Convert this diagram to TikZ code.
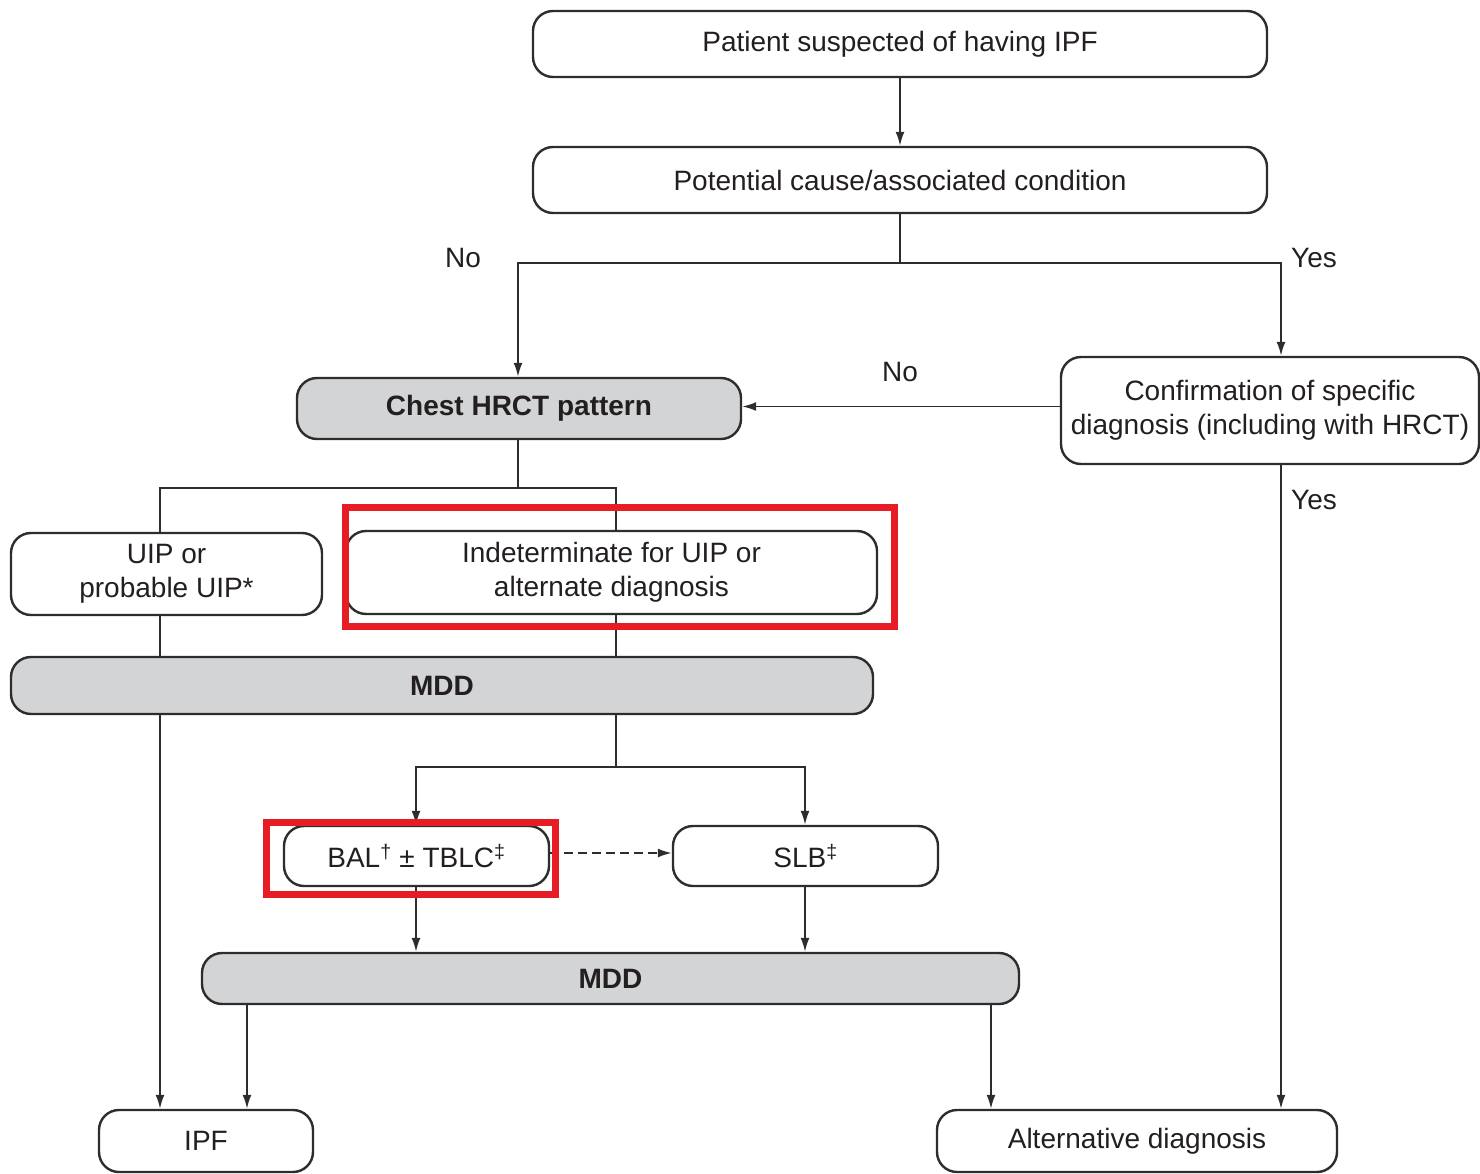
\documentclass[tikz,border=0pt]{standalone}
\usepackage{fontspec}
\setmainfont{Liberation Sans}
\usetikzlibrary{arrows.meta}
\definecolor{ln}{RGB}{45,45,45}
\definecolor{gf}{RGB}{211,212,214}
\definecolor{hl}{RGB}{232,28,36}
\definecolor{tx}{RGB}{35,31,32}
\tikzset{
  box/.style={draw=ln, line width=2.4pt, rounded corners=20pt, fill=white, inner sep=0pt, align=center, text=tx, font=\fontsize{28}{34}\selectfont},
  gbox/.style={box, fill=gf, font=\fontsize{28}{34}\selectfont\bfseries},
  conn/.style={draw=ln, line width=1.8pt},
  arr/.style={conn, -{Latex[length=14pt,width=9pt]}},
  dasharr/.style={arr, dash pattern=on 9pt off 5pt},
  lbl/.style={text=tx, font=\fontsize{28}{34}\selectfont, inner sep=0pt},
  hilite/.style={draw=hl, line width=7.5pt, inner sep=0pt}
}
\begin{document}
\begin{tikzpicture}[x=1pt,y=-1pt]
\useasboundingbox (0,0) rectangle (1480,1174);
% nodes
\node[box, minimum width=734pt, minimum height=66pt] (pat) at (900,44) {Patient suspected of having IPF};
\node[box, minimum width=734pt, minimum height=66pt] (pc) at (900,180) {Potential cause/associated condition};
\node[gbox, minimum width=444pt, minimum height=61pt] (chest) at (519,408.5) {Chest HRCT pattern};
\node[box, minimum width=418pt, minimum height=107pt] (conf) at (1270,410.5) {Confirmation of specific\\diagnosis (including with HRCT)};
\node[box, minimum width=311pt, minimum height=82pt] (uip) at (166.5,574) {UIP or\\probable UIP*};
\node[box, minimum width=531pt, minimum height=83pt] (ind) at (611.5,572.5) {Indeterminate for UIP or\\alternate diagnosis};
\node[gbox, minimum width=862pt, minimum height=57pt] (mdda) at (442,685.5) {MDD};
\node[box, minimum width=265pt, minimum height=60pt] (bal) at (416.5,856) {BAL\textsuperscript{†} ± TBLC\textsuperscript{‡}};
\node[box, minimum width=265pt, minimum height=60pt] (slb) at (805.5,856) {SLB\textsuperscript{‡}};
\node[gbox, minimum width=817pt, minimum height=51pt] (mddb) at (610.5,978.5) {MDD};
\node[box, minimum width=214pt, minimum height=62pt] (ipf) at (206,1141) {IPF};
\node[box, minimum width=400pt, minimum height=62pt] (alt) at (1137,1141) {Alternative diagnosis};
% column coordinates
\coordinate (cA) at (160,0);
\coordinate (cB) at (616,0);
\coordinate (cC) at (416,0);
\coordinate (cD) at (805,0);
\coordinate (cE) at (247,0);
\coordinate (cF) at (991,0);
\coordinate (cG) at (1281,0);
\coordinate (j1) at (900,263);
\coordinate (j2) at (518,488);
\coordinate (j3) at (616,767);
% connectors
\draw[arr] (pat.south) -- (pc.north);
\draw[conn] (pc.south) -- (j1);
\draw[arr] (j1) -| ([xshift=-1pt]chest.north);
\draw[arr] (j1) -| (conf.north -| cG);
\draw[arr] ([yshift=4pt]conf.west) -- ([yshift=4pt]conf.west -| chest.east);
\draw[conn] ([xshift=-1pt]chest.south) -- (j2);
\draw[conn] (j2) -| (uip.north -| cA);
\draw[conn] (j2) -| (ind.north -| cB);
\draw[conn] (uip.south -| cA) -- (mdda.north -| cA);
\draw[conn] (ind.south -| cB) -- (mdda.north -| cB);
\draw[arr] (mdda.south -| cA) -- (ipf.north -| cA);
\draw[conn] (mdda.south -| cB) -- (j3);
\draw[arr] (j3) -| (bal.north -| cC);
\draw[arr] (j3) -| (slb.north -| cD);
\draw[dasharr] ([yshift=3pt]bal.east) -- ([yshift=3pt]bal.east -| slb.west);
\draw[arr] (bal.south -| cC) -- (mddb.north -| cC);
\draw[arr] (slb.south -| cD) -- (mddb.north -| cD);
\draw[arr] (mddb.south -| cE) -- (ipf.north -| cE);
\draw[arr] (mddb.south -| cF) -- (alt.north -| cF);
\draw[arr] (conf.south -| cG) -- (alt.north -| cG);
% labels
\node[lbl] (no1) at (463,258) {No};
\node[lbl] (yes1) at (1314,258) {Yes};
\node[lbl] (no2) at (900,372) {No};
\node[lbl] (yes2) at (1314,500) {Yes};
% highlights
\node[hilite, minimum width=549pt, minimum height=119pt] (hla) at (620,567) {};
\node[hilite, minimum width=289pt, minimum height=72pt] (hlb) at (411,858.5) {};
\end{tikzpicture}
\end{document}
